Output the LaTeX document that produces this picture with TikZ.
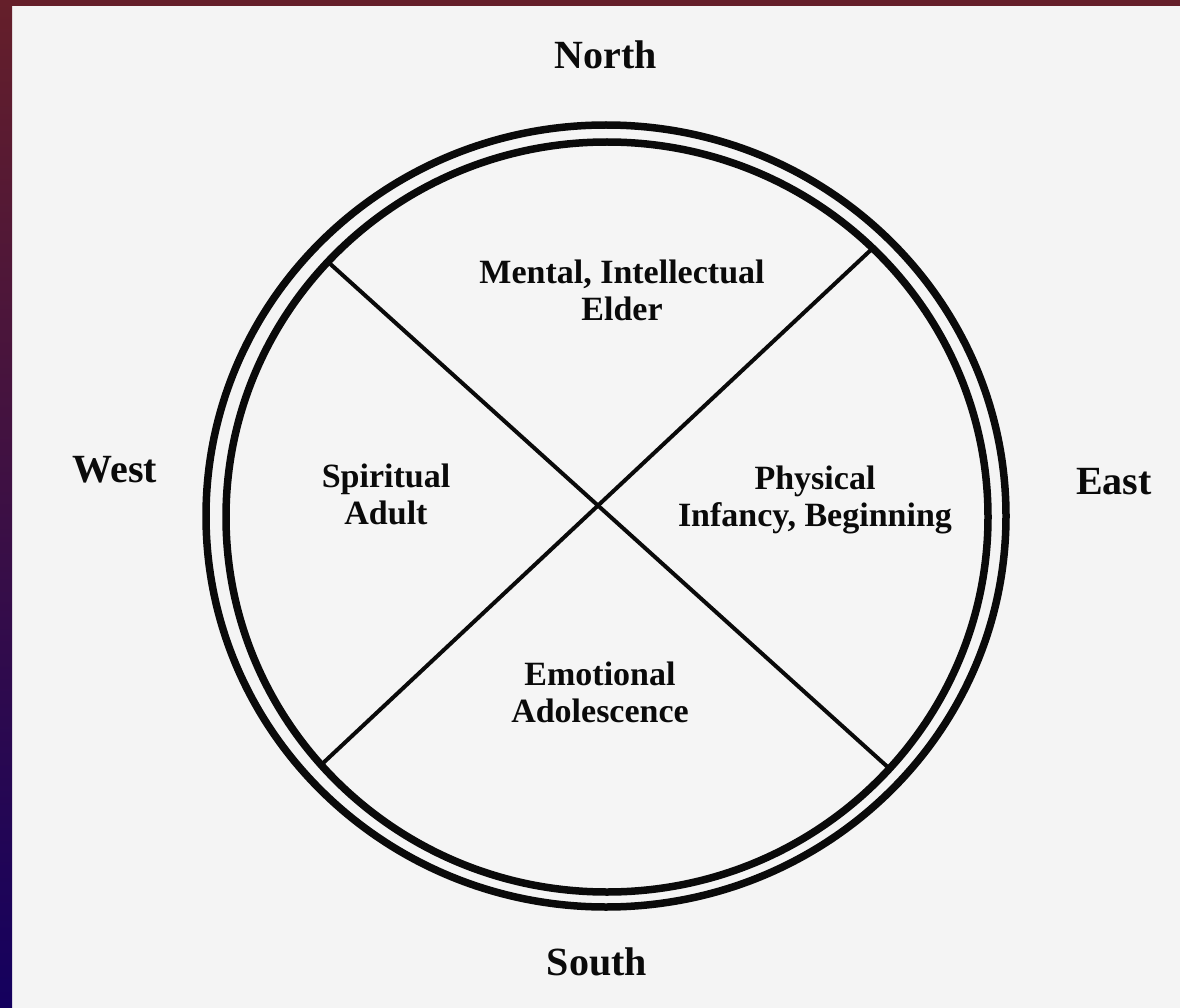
\documentclass[tikz,border=0pt]{standalone}
\usepackage{fontspec}
\setmainfont{Liberation Serif}
\definecolor{paper}{HTML}{F4F4F4}
\definecolor{bandtop}{HTML}{651F2A}
\definecolor{bandbot}{HTML}{14005E}
\definecolor{ink}{HTML}{0A0A0A}
\begin{document}
\begin{tikzpicture}[x=1pt,y=-1pt,
  lab/.style={font=\fontsize{34}{37}\selectfont\bfseries, align=center, text=ink, inner sep=0pt},
  dirlab/.style={font=\fontsize{40}{44}\selectfont\bfseries, text=ink, inner sep=0pt},
  ring/.style={draw=ink, line width=7.5pt},
  spoke/.style={draw=ink, line width=4pt}]
\useasboundingbox (0,0) rectangle (1180,1008);
\fill[paper] (0,0) rectangle (1180,1008);
\fill[black!4] (310,130) rectangle (990,880);
\shade[top color=bandtop, bottom color=bandbot] (0,0) rectangle (12,1008);
\fill[bandtop] (0,0) rectangle (1180,6);
% spokes
\coordinate (tl) at (327,261);
\coordinate (tr) at (874,247);
\coordinate (bl) at (321,765);
\coordinate (br) at (891,770);
\draw[spoke] (tl) -- (br);
\draw[spoke] (tr) -- (bl);
% rings
\draw[ring] (606,516) ellipse [x radius=400pt, y radius=391pt];
\draw[ring] (607,517) ellipse [x radius=381pt, y radius=375pt];
% direction labels
\node[dirlab] (north) at (606,55) {North};
\node[dirlab] (south) at (597,962) {South};
\node[dirlab] (west) at (115,470) {West};
\node[dirlab] (east) at (1114,482) {East};
% quadrant labels
\node[lab] (mental) at (622,290) {Mental, Intellectual\\Elder};
\node[lab] (spirit) at (386,494) {Spiritual\\Adult};
\node[lab] (phys) at (815,500) {Physical\\Infancy, Beginning};
\node[lab] (emot) at (600,692) {Emotional\\Adolescence};
\end{tikzpicture}
\end{document}
